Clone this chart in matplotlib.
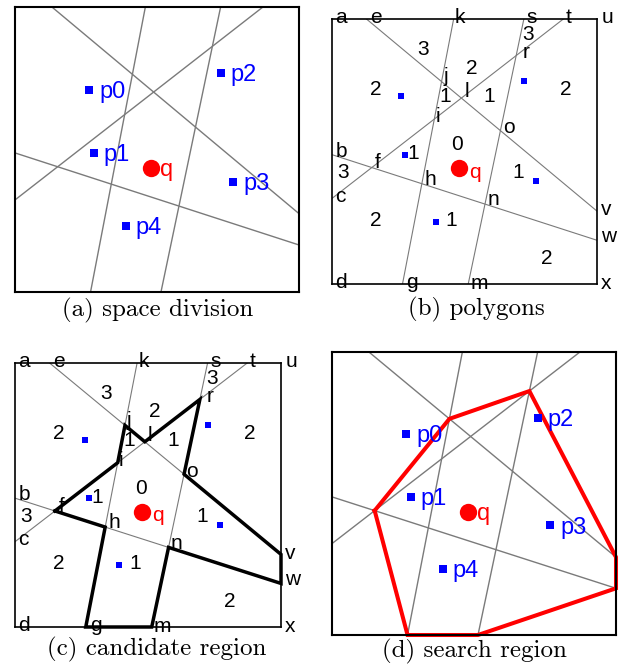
import numpy as np
import matplotlib
matplotlib.use('Agg')
import matplotlib.pyplot as plt

W, H = 631, 666
SANS = 'Liberation Sans'
SERIF = 'cmr10'

# ---- division lines: endpoints in box coordinates (box = 0..100) ----
line_names = ['ev', 'kg', 'sm', 'tc', 'bw']
line_start = [(13.0, 100.0), (45.9, 100.0), (72.4, 100.0), (87.3, 100.0), (0.0, 48.8)]
line_end = [(100.0, 27.5), (26.6, 0.0), (51.4, 0.0), (0.0, 32.3), (100.0, 16.5)]

# ---- data points ----
point_names = ['p0', 'p1', 'p2', 'p3', 'p4']
point_x = [26.2, 27.7, 72.4, 76.9, 39.1]
point_y = [70.9, 48.8, 76.7, 38.7, 23.3]
q_x, q_y = 47.9, 43.6

# ---- vertex labels (panels b, c) ----
vertex_text = ['a', 'e', 'k', 's', 't', 'u', 'r', 'j', 'l', 'i', 'o', 'b', 'f',
               'h', 'c', 'n', 'v', 'w', 'd', 'g', 'm', 'x']
vertex_tx = [3.5, 16.7, 48.4, 75.5, 89.4, 103.8, 73.4, 42.9, 50.8, 40.0, 66.7, 3.5,
             17.4, 37.2, 3.2, 60.8, 103.5, 104.5, 3.5, 30.3, 55.5, 103.5]
vertex_ty = [100.4, 100.4, 100.7, 100.4, 100.4, 100.4, 87.2, 78.3, 72.7, 63.2, 58.9,
             50.0, 45.7, 39.4, 33.1, 31.8, 28.0, 18.0, 0.4, 0.4, 0.2, 0.2]

# ---- region counts (panels b, c) ----
count_text = ['3', '3', '2', '1', '1', '2', '2', '0', '1', '3', '1', '2', '1', '2']
count_tx = [74.0, 34.3, 52.6, 42.9, 59.3, 88.2, 16.5, 47.2, 30.8, 4.2, 70.2, 16.5, 45.1, 80.9]
count_ty = [94.1, 88.4, 81.5, 70.8, 70.8, 73.3, 73.3, 52.6, 49.2, 41.9, 41.9, 24.0, 24.0, 9.8]

# ---- regions (sequence of vertex names) ----
candidate_region = ['f', 'i', 'j', 'l', 'r', 'o', 'v', 'w', 'n', 'm', 'g', 'h']
search_region = ['f', 'j', 'r', 'v', 'w', 'm', 'g']

captions = ['(a) space division', '(b) polygons', '(c) candidate region', '(d) search region']
caption_px = [(158, 310), (476, 309), (157, 649), (474, 651)]

# panel boxes in pixels: (left, top, right, bottom)
boxes = [(15, 7, 299, 292), (332, 19, 597, 284), (15, 363, 281, 627), (332, 352, 616, 635)]


def intersect(a, b):
    (x1, y1), (x2, y2) = line_start[line_names.index(a)], line_end[line_names.index(a)]
    (x3, y3), (x4, y4) = line_start[line_names.index(b)], line_end[line_names.index(b)]
    d = (x1 - x2) * (y3 - y4) - (y1 - y2) * (x3 - x4)
    t = ((x1 - x3) * (y3 - y4) - (y1 - y3) * (x3 - x4)) / d
    return (x1 + t * (x2 - x1), y1 + t * (y2 - y1))


vert = {
    'f': intersect('tc', 'bw'), 'i': intersect('kg', 'tc'), 'j': intersect('ev', 'kg'),
    'l': intersect('ev', 'tc'), 'r': intersect('sm', 'tc'), 'o': intersect('ev', 'sm'),
    'n': intersect('sm', 'bw'), 'h': intersect('kg', 'bw'),
    'v': line_end[0], 'w': line_end[4], 'm': line_end[2], 'g': line_end[1],
}

fig = plt.figure(figsize=(W / 100, H / 100), dpi=100)


def make_ax(box, frame_lw):
    l, t, r, b = box
    ax = fig.add_axes([l / W, 1 - b / H, (r - l) / W, (b - t) / H])
    ax.set_xlim(0, 100)
    ax.set_ylim(0, 100)
    ax.set_xticks([])
    ax.set_yticks([])
    for s in ax.spines.values():
        s.set_linewidth(frame_lw)
        s.set_color('black')
        s.set_zorder(5)
    return ax


def draw_lines(ax, lw):
    for (x0, y0), (x1, y1) in zip(line_start, line_end):
        ax.plot([x0, x1], [y0, y1], color='#7a7a7a', lw=lw, zorder=2)


def draw_points(ax, labels, ms=5.5):
    ax.plot(point_x, point_y, 's', color='#0000ff', ms=ms, mew=0, zorder=6)
    ax.plot([q_x], [q_y], 'o', color='#ff0000', ms=12.5, mew=0, zorder=6)
    if labels:
        for n, x, y in zip(point_names, point_x, point_y):
            ax.annotate(n, (x, y), xytext=(7, -1.5), textcoords='offset points',
                        ha='left', va='center', color='#0000ff', fontsize=17,
                        family=SANS, zorder=7)
        ax.annotate('q', (q_x, q_y), xytext=(6.5, -1.5), textcoords='offset points',
                    ha='left', va='center', color='#ff0000', fontsize=17,
                    family=SANS, zorder=7)


def draw_labels(ax):
    for t, x, y in zip(vertex_text, vertex_tx, vertex_ty):
        ax.text(x, y, t, ha='center', va='center', fontsize=15, family=SANS,
                color='black', zorder=8, clip_on=False)
    for t, x, y in zip(count_text, count_tx, count_ty):
        ax.text(x, y, t, ha='center', va='center', fontsize=15, family=SANS,
                color='black', zorder=8, clip_on=False)
    ax.text(q_x + 6.0, q_y - 1.5, 'q', ha='center', va='center', fontsize=15,
            family=SANS, color='#ff0000', zorder=8)


def draw_region(ax, names, color, lw):
    xs = [vert[n][0] for n in names] + [vert[names[0]][0]]
    ys = [vert[n][1] for n in names] + [vert[names[0]][1]]
    ax.plot(xs, ys, color=color, lw=lw, zorder=4, solid_joinstyle='miter',
            clip_on=False)


# (a)
ax = make_ax(boxes[0], 1.5)
draw_lines(ax, 1.0)
draw_points(ax, True)

# (b)
ax = make_ax(boxes[1], 1.2)
draw_lines(ax, 0.8)
draw_points(ax, False, ms=5)
draw_labels(ax)

# (c)
ax = make_ax(boxes[2], 1.2)
draw_lines(ax, 0.8)
draw_region(ax, candidate_region, 'black', 2.5)
draw_points(ax, False, ms=5)
draw_labels(ax)

# (d)
ax = make_ax(boxes[3], 1.5)
draw_lines(ax, 1.0)
draw_region(ax, search_region, '#ff0000', 2.9)
draw_points(ax, True)

for c, (px, py) in zip(captions, caption_px):
    fig.text(px / W, 1 - py / H, c, ha='center', va='center', fontsize=18,
             family=SERIF)

fig.savefig('out.png', dpi=100)
